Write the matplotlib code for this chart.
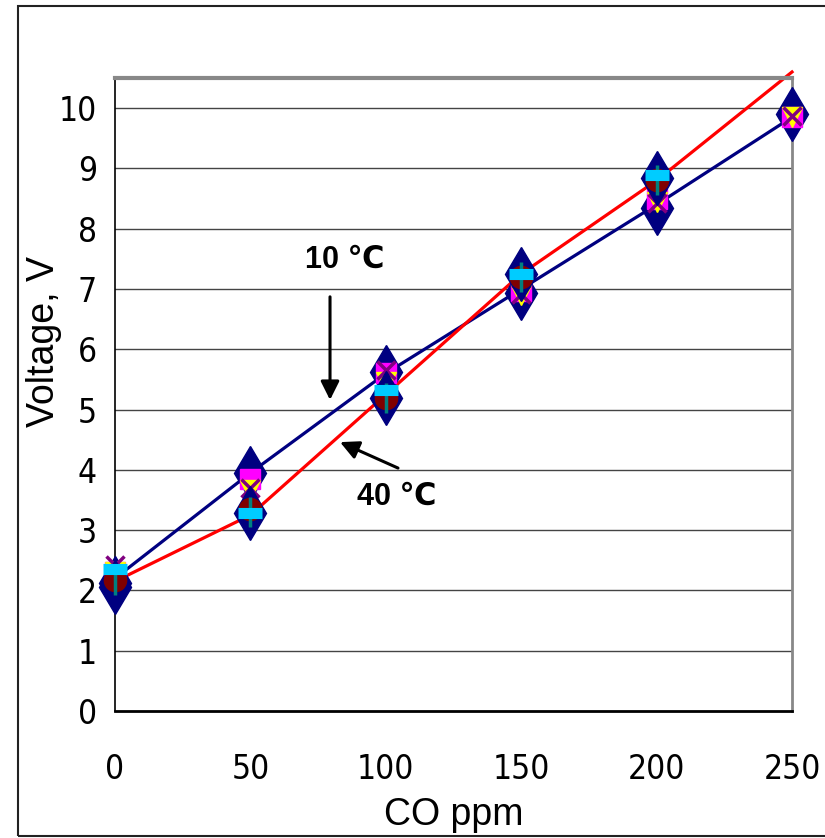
import matplotlib
matplotlib.use("Agg")
import matplotlib.pyplot as plt
from matplotlib.patches import Rectangle

# CO concentration (ppm)
co_ppm = [0, 50, 100, 150, 200, 250]
co_ppm_b = [0, 50, 100, 150, 200]

# measured points, 10 C group
navy_a = [2.12, 3.95, 5.62, 6.93, 8.34, 9.90]
magenta_a = [2.30, 3.85, 5.60, 6.97, 8.50, 9.85]
yellow_a = [2.30, 3.66, 5.45, 6.90, 8.45, 9.85]
purple_a = [2.42, 3.70, 5.65, 6.92, 8.42, 9.87]

# measured points, 40 C group
navy_b = [2.06, 3.28, 5.19, 7.25, 8.84]
darkred_b = [2.17, 3.35, 5.20, 7.20, 8.80]
teal_b = [2.17, 3.30, 5.20, 7.20, 8.80]
cyan_b = [2.35, 3.28, 5.32, 7.25, 8.89]

# trend lines
line_10c = [2.20, 3.95, 5.60, 7.00, 8.40, 9.85]
line_40c = [2.15, 3.25, 5.25, 7.25, 8.80, 10.60]

yticks = list(range(0, 11))
xticks = [0, 50, 100, 150, 200, 250]

fig = plt.figure(figsize=(8.25, 8.38), dpi=100)
ax = fig.add_axes([115/825, 1 - 711/838, (792 - 115)/825, (711 - 78)/838])

# outer frame
fig.patches.append(Rectangle((18/825, 1 - 836/838), 1.2, (836 - 6)/838,
                             transform=fig.transFigure, fill=False,
                             edgecolor='#222222', lw=1.5, clip_on=False))

for y in yticks[1:]:
    ax.axhline(y, color='#444444', lw=1.0, zorder=1)

ax.plot(co_ppm, line_10c, color='#000080', lw=2.3, zorder=2, clip_on=False)
ax.plot(co_ppm, line_40c, color='#ff0000', lw=2.3, zorder=2, clip_on=False)

mk = dict(ls='none', clip_on=False, zorder=3)
ax.plot(co_ppm, navy_a, marker='d', ms=28, color='#000080', mec='#000080', **mk)
ax.plot(co_ppm, magenta_a, marker='s', ms=15, color='#ff00ff', mec='#ff00ff', **mk)
ax.plot(co_ppm, yellow_a, marker='v', ms=14, color='#ffff00', mec='#ffff00', **mk)
ax.plot(co_ppm, purple_a, marker='x', ms=13, mew=2.5, color='#800080', **mk)

ax.plot(co_ppm_b, navy_b, marker='d', ms=28, color='#000080', mec='#000080', **mk)
ax.plot(co_ppm_b, darkred_b, marker='o', ms=16, color='#800000', mec='#800000', **mk)
ax.plot(co_ppm_b, teal_b, marker='|', ms=22, mew=2.5, color='#008080', **mk)
ax.plot(co_ppm_b, cyan_b, marker='_', ms=17, mew=8, color='#00ccff', **mk)

ax.set_xlim(0, 250)
ax.set_ylim(0, 10.5)
ax.set_xticks(xticks)
ax.set_yticks(yticks)

ax.tick_params(axis='both', length=0)
ax.tick_params(axis='y', pad=13)
ax.tick_params(axis='x', pad=30)
for lab in ax.get_xticklabels() + ax.get_yticklabels():
    lab.set_family('DejaVu Sans')
    lab.set_fontstretch('condensed')
    lab.set_fontsize(24)

ax.spines['left'].set_color('black')
ax.spines['left'].set_linewidth(1.2)
ax.spines['bottom'].set_color('black')
ax.spines['bottom'].set_linewidth(2.0)
ax.spines['top'].set_color('#888888')
ax.spines['top'].set_linewidth(3.0)
ax.spines['right'].set_color('#888888')
ax.spines['right'].set_linewidth(2.0)

ax.set_xlabel('CO ppm', fontsize=27, family='Liberation Sans', labelpad=8)
ax.set_ylabel('Voltage, V', fontsize=27, family='Liberation Sans')
ax.yaxis.set_label_coords(-0.078, 0.583)

lbl_font = ['Liberation Sans', 'DejaVu Sans']
arrow = dict(arrowstyle='-|>', color='black', lw=2.2, mutation_scale=28,
             shrinkA=0, shrinkB=0)
ax.text(85, 7.48, '10 ℃', ha='center', va='center', fontsize=22,
        fontweight='bold', fontstretch='normal', family=lbl_font)
ax.annotate('', xy=(79.4, 5.16), xytext=(79.4, 6.87), arrowprops=arrow)
ax.annotate('', xy=(83.1, 4.46), xytext=(104.5, 4.03), arrowprops=arrow)
ax.text(104, 3.55, '40 ℃', ha='center', va='center', fontsize=22,
        fontweight='bold', fontstretch='normal', family=lbl_font)

fig.savefig('out.png', dpi=100)
